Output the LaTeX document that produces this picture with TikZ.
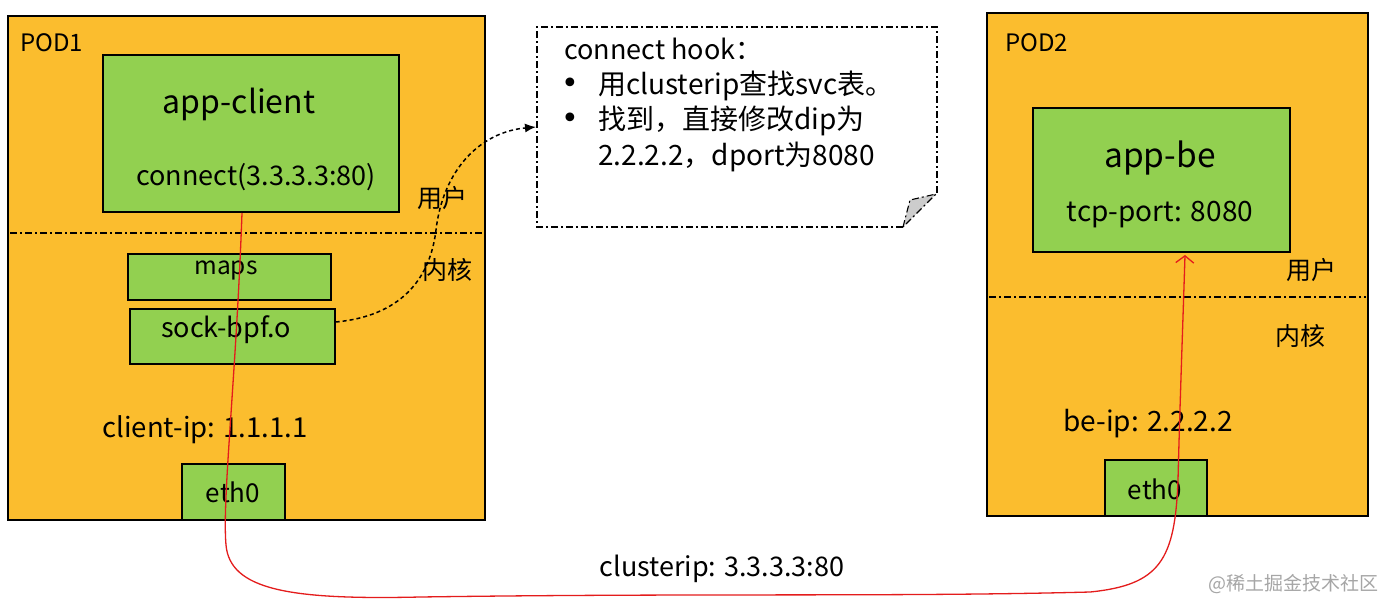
\documentclass[tikz,border=0pt]{standalone}
\usepackage{fontspec}
\setmainfont{Noto Sans CJK SC}
\newfontfamily\dv{DejaVu Sans}
\usetikzlibrary{arrows.meta}
\definecolor{podorange}{RGB}{251,189,46}
\definecolor{boxgreen}{RGB}{146,208,80}
\definecolor{redline}{RGB}{228,28,28}
\tikzset{
  pod/.style={draw=black, line width=1.6pt, fill=podorange, inner sep=0pt},
  gbox/.style={draw=black, line width=1.4pt, fill=boxgreen, inner sep=0pt},
  lbl/.style={inner sep=0pt, text=black},
  sep/.style={line width=1.2pt, dash pattern=on 7pt off 3pt on 2pt off 3pt},
}
\newcommand{\fs}[1]{\fontsize{#1pt}{#1pt}\selectfont}
\begin{document}
\begin{tikzpicture}[x=1pt,y=-1pt]
\useasboundingbox (0,0) rectangle (1390,614);
\fill[white] (0,0) rectangle (1390,614);
% POD1
\node[pod, minimum width=477pt, minimum height=504pt] (pod1) at (246.5,268) {};
\draw[sep] (10,233) -- (484,233);
\node[gbox, minimum width=296pt, minimum height=157pt] (appc) at (251,133.5) {};
\node[gbox, minimum width=203pt, minimum height=46pt] (maps) at (229.5,277) {};
\node[gbox, minimum width=205pt, minimum height=55pt] (sock) at (232.5,336.5) {};
\node[gbox, minimum width=103pt, minimum height=56pt] (eth1) at (233.5,492) {};
\node[lbl, anchor=west] (p1) at (20,43) {\fs{24}POD1};
\node[lbl] (t1) at (239,104) {\fs{32}app-client};
\node[lbl] (t2) at (256,177) {\fs{27}connect(3.3.3.3:80)};
\node[lbl] (t3) at (226,270) {\fs{24.5}maps};
\node[lbl] (t4) at (226,330) {\fs{27}sock-bpf.o};
\node[lbl] (t5) at (205,430) {\fs{27.5}client-ip: 1.1.1.1};
\node[lbl] (t6) at (233,492) {\fs{26}eth0};
\node[lbl] (u1) at (442,198) {\fs{25}用户};
\node[lbl] (k1) at (447,270) {\fs{25}内核};
% POD2
\node[pod, minimum width=381pt, minimum height=503pt] (pod2) at (1177.5,264.5) {};
\draw[sep] (989,297) -- (1366,297);
\node[gbox, minimum width=257pt, minimum height=144pt] (appb) at (1161.5,180) {};
\node[gbox, minimum width=102pt, minimum height=56pt] (eth2) at (1156,488) {};
\node[lbl, anchor=west] (p2) at (1005,43) {\fs{24}POD2};
\node[lbl] (s1) at (1160,158) {\fs{33.5}app-be};
\node[lbl] (s2) at (1160,215) {\fs{28}tcp-port: 8080};
\node[lbl] (s3) at (1148,424) {\fs{28}be-ip: 2.2.2.2};
\node[lbl] (s4) at (1155,489) {\fs{26}eth0};
\node[lbl] (u2) at (1311,270) {\fs{25}用户};
\node[lbl] (k2) at (1300,336) {\fs{25}内核};
% callout
\draw[sep, line width=1.1pt] (903,227) -- (537,227) -- (537,27) -- (937,27) -- (937,194);
\draw[sep, line width=1.1pt, fill=black!20] (903,227) -- (910,200) -- (936,194) -- cycle;
\coordinate (cin) at (536,127);
\node[lbl, anchor=west] (c0) at (564,49) {\fs{27}connect hook：};
\node[lbl] (b1) at (570,86) {\dv\fs{30}•};
\node[lbl] (b2) at (570,121) {\dv\fs{30}•};
\node[lbl, anchor=west] (c1) at (598,86) {\fs{28}用clusterip查找svc表。};
\node[lbl, anchor=west] (c2) at (598,121) {\fs{28}找到，直接修改dip为};
\node[lbl, anchor=west] (c3) at (598,157) {\fs{28}2.2.2.2，dport为8080};
% dashed hook arrow
\draw[line width=1.5pt, dash pattern=on 4pt off 3pt, -{Latex[length=11pt,width=9pt]}]
  (sock.east |- 0,322) .. controls (400,316) and (430,280) .. (436,230)
  .. controls (443,170) and (480,132) .. (cin);
% red path
\coordinate (r0) at (242,213);
\coordinate (r1) at (226,545);
\coordinate (r2) at (420,597);
\coordinate (r3) at (1090,592);
\coordinate (r4) at (1178,480);
\coordinate (r5) at (1185,255);
\draw[redline, line width=1.3pt, -{Straight Barb[length=7pt,width=18pt]}]
  (r0) .. controls (236,380) and (222,500) .. (r1)
  .. controls (230,590) and (290,600) .. (r2)
  .. controls (700,593) and (900,597) .. (r3)
  .. controls (1160,585) and (1175,560) .. (r4)
  .. controls (1180,400) and (1183,320) .. (r5);
\node[lbl] (ci) at (722,569) {\fs{27}clusterip: 3.3.3.3:80};
\node[lbl, anchor=east, text=black!35] (wm) at (1379,584) {\fs{19}@稀土掘金技术社区};
\end{tikzpicture}
\end{document}
